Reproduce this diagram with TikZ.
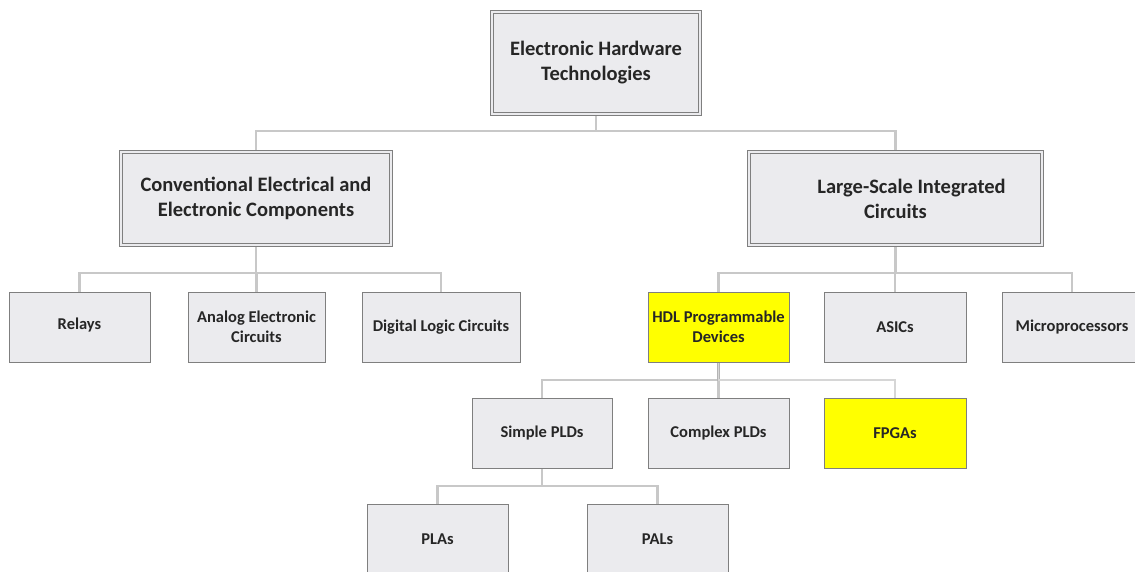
\documentclass[tikz,border=0pt]{standalone}
\usepackage{fontspec}
\setmainfont{Carlito}
\usetikzlibrary{backgrounds}
\definecolor{boxfill}{HTML}{EBEBEE}
\definecolor{boxline}{HTML}{7F7F7F}
\definecolor{connline}{HTML}{C8C8C8}
\definecolor{connedge}{HTML}{B4B4B4}
\definecolor{connmid}{HTML}{D6D6D6}
\definecolor{hilite}{HTML}{FFFF00}
\definecolor{ink}{HTML}{262626}
\tikzset{
  bigbox/.style={draw=boxline, line width=0.8pt, double=boxfill, double distance=2.2pt,
    fill=boxfill, align=center, inner sep=0pt, text=ink,
    font=\fontsize{20.5}{25}\selectfont\bfseries},
  smallbox/.style={draw=boxline, line width=1pt, fill=boxfill, align=center,
    inner sep=0pt, text=ink, minimum width=141pt, minimum height=70pt,
    font=\fontsize{16.5}{20}\selectfont\bfseries},
  yellowbox/.style={smallbox, fill=hilite},
  conn/.style={draw=connline, line width=2.4pt},
  connhi/.style={draw=connedge, line width=0.8pt, double=connmid, double distance=1.2pt}
}
\begin{document}
\begin{tikzpicture}[x=1pt,y=-1pt]
\useasboundingbox (0,0) rectangle (1135,571);

% root
\node[bigbox, minimum width=208pt, minimum height=102pt] (root) at (596,63)
  {Electronic Hardware\\Technologies};

% second level
\node[bigbox, minimum width=270pt, minimum height=93pt] (conv) at (256,198.5)
  {Conventional Electrical and\\Electronic Components};
\node[bigbox, minimum width=293pt, minimum height=93pt] (lsi) at (895.5,198.5)
  {\hspace*{32pt}Large-Scale Integrated\\Circuits};

% third level
\node[smallbox] (relays) at (79.5,327) {\raisebox{6pt}{Relays}};
\node[smallbox, minimum width=137pt] (analog) at (256.5,327) {Analog Electronic\\Circuits};
\node[smallbox, minimum width=158pt] (digital) at (441,327) {Digital Logic Circuits};
\node[yellowbox] (hdl) at (718.5,327) {HDL Programmable\\Devices};
\node[smallbox, minimum width=142pt] (asics) at (895,327) {ASICs};
\node[smallbox, minimum width=140pt] (micro) at (1072,327) {Microprocessors};

% fourth level
\node[smallbox, minimum width=140pt] (spld) at (542,433) {Simple PLDs};
\node[smallbox] (cpld) at (718.5,433) {Complex PLDs};
\node[yellowbox, minimum width=142pt] (fpga) at (895,433) {FPGAs};

% fifth level
\node[smallbox] (pla) at (437.5,539) {PLAs};
\node[smallbox] (pal) at (657.5,539) {PALs};

% bus heights
\coordinate (busA) at (0,131);
\coordinate (busB) at (0,273);
\coordinate (busC) at (0,380);
\coordinate (busD) at (0,486);

\begin{pgfonlayer}{background}
  \foreach \c in {conv,lsi}
    \draw[conn] (root.south) -- (root.south |- busA) -| (\c.north);
  \foreach \c in {relays,analog,digital}
    \draw[conn] (conv.south) -- (conv.south |- busB) -| (\c.north);
  \foreach \c in {hdl,asics,micro}
    \draw[conn] (lsi.south) -- (lsi.south |- busB) -| (\c.north);
  \foreach \c in {spld,cpld}
    \draw[conn] (hdl.south) -- (hdl.south |- busC) -| (\c.north);
  \draw[connhi] (hdl.south) -- (hdl.south |- busC) -| (fpga.north);
  \foreach \c in {pla,pal}
    \draw[conn] (spld.south) -- (spld.south |- busD) -| (\c.north);
\end{pgfonlayer}
\end{tikzpicture}
\end{document}
